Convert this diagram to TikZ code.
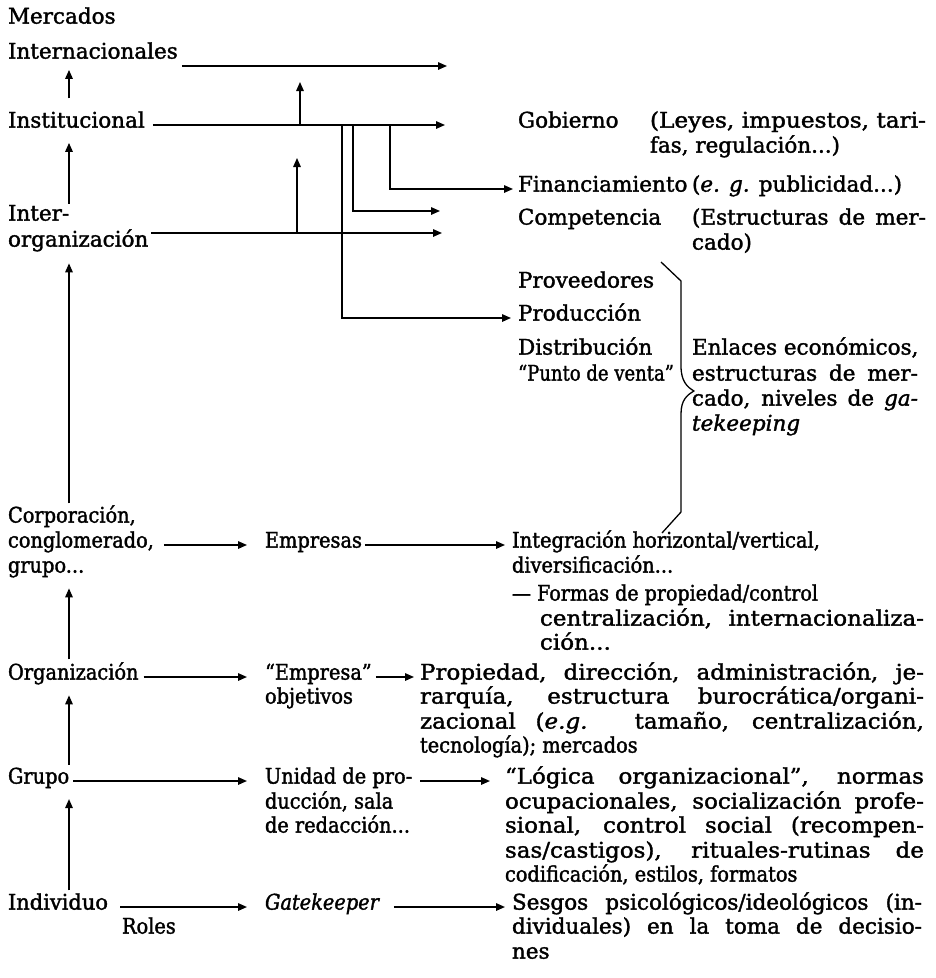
\documentclass[tikz,border=0pt]{standalone}
\usepackage{fontspec}
\usepackage{graphicx}
\setmainfont{DejaVu Serif}[FakeBold=1.6]
\newfontfamily\condfam{DejaVu Serif}[FakeStretch=0.9,FakeBold=1.6]
\newfontfamily\widefam{DejaVu Serif}[FakeStretch=1.07,FakeBold=1.6]
\usetikzlibrary{arrows.meta}

\newcommand\mainsz{\fontsize{21.5pt}{25pt}\selectfont}
\newcommand\condsz{\condfam\fontsize{21.5pt}{25pt}\selectfont}
\newcommand\widesz{\widefam\fontsize{21.5pt}{25pt}\selectfont}
% one justified line: stretch the word spaces, or squeeze when too long
\newsavebox\fitbox
\newcommand\fitline[2]{\sbox\fitbox{#2}%
  \ifdim\wd\fitbox>#1\relax\resizebox{#1}{\height}{\usebox\fitbox}%
  \else\makebox[#1][s]{#2}\fi}
% one line scaled horizontally to a given width, spaces kept normal
\newcommand\sqline[2]{\resizebox{#1}{\height}{#2}}

\begin{document}
\begin{tikzpicture}[x=1pt,y=-1pt,
  lbl/.style={inner sep=0pt,outer sep=0pt,anchor=mid west,font=\mainsz},
  clbl/.style={lbl,font=\condsz},
  wlbl/.style={lbl,font=\widesz},
  conn/.style={line width=1.5pt},
  arr/.style={conn,-{Triangle[length=9pt,width=7.5pt]}},
  bracepath/.style={line width=1.3pt,line join=round}]
\fill[white] (0,0) rectangle (936,978);
\useasboundingbox (0,0) rectangle (936,978);

% ---- left column: levels ----
\node[lbl] (merc)   at (8,21)  {Mercados};
\node[lbl] (intl)   at (8,56)  {Internacionales};
\node[lbl] (inst)   at (8,125) {Institucional};
\node[lbl] (inter1) at (8,218) {Inter-};
\node[lbl] (inter2) at (8,244) {organización};
\node[clbl] (corp1) at (8,520) {Corporación,};
\node[clbl] (corp2) at (8,545) {conglomerado,};
\node[clbl] (corp3) at (8,570) {grupo...};
\node[clbl] (org)   at (8,677) {Organización};
\node[clbl] (grp)   at (8,781) {Grupo};
\node[clbl] (ind)   at (8,907) {\sqline{100pt}{Individuo}};
\node[clbl] (roles) at (122,931) {Roles};

% ---- upper right block ----
\node[lbl] (gob)    at (518,125) {Gobierno};
\node[lbl] (leyes1) at (650,125) {\sqline{276pt}{(Leyes, impuestos, tari-}};
\node[lbl] (leyes2) at (650,150) {\sqline{190pt}{fas, regulación...)}};
\node[lbl] (fin)    at (518,189) {Financiamiento};
\node[lbl] (fin2)   at (692,189) {(\textit{e. g.} publicidad...)};
\node[lbl] (comp)   at (518,222) {Competencia};
\node[lbl] (comp1)  at (692,222) {\fitline{234pt}{(Estructuras de mer-}};
\node[lbl] (comp2)  at (692,247) {cado)};
\node[lbl] (prov)   at (518,285) {Proveedores};
\node[lbl] (prod)   at (518,318) {Producción};
\node[lbl] (dist1)  at (518,352) {Distribución};
\node[lbl] (dist2)  at (518,378) {\sqline{156pt}{“Punto de venta”}};
\node[lbl] (enl1)   at (692,352) {Enlaces económicos,};
\node[lbl] (enl2)   at (692,378) {\fitline{226pt}{estructuras de mer-}};
\node[lbl] (enl3)   at (692,403) {\fitline{226pt}{cado, niveles de \textit{ga-}}};
\node[lbl] (enl4)   at (692,428) {\textit{tekeeping}};

% ---- middle column ----
\node[clbl] (emps) at (265,545) {Empresas};
\node[clbl] (emp1) at (265,677) {“Empresa”};
\node[clbl] (emp2) at (265,701) {objetivos};
\node[clbl] (uni1) at (265,781) {Unidad de pro-};
\node[clbl] (uni2) at (265,806) {ducción, sala};
\node[clbl] (uni3) at (265,830) {de redacción...};
\node[clbl] (gate) at (265,907) {\textit{Gatekeeper}};

% ---- lower right block ----
\node[clbl] (int1) at (512,545) {\sqline{308pt}{Integración horizontal/vertical,}};
\node[clbl] (int2) at (512,570) {diversificación...};
\node[lbl]  (int3) at (512,598) {\sqline{306pt}{— Formas de propiedad/control}};
\node[wlbl] (int4) at (540,623) {\fitline{384pt}{centralización, internacionaliza-}};
\node[wlbl] (int5) at (540,647) {ción...};
\node[wlbl] (pro1) at (420,677) {\fitline{504pt}{Propiedad, dirección, administración, je-}};
\node[wlbl] (pro2) at (420,701) {\fitline{504pt}{rarquía, estructura burocrática/organi-}};
\node[wlbl] (pro3) at (420,726) {\fitline{504pt}{zacional (\textit{e.g.} tamaño, centralización,}};
\node[clbl] (pro4) at (420,750) {tecnología); mercados};
\node[wlbl] (log1) at (505,781) {\fitline{419pt}{“Lógica organizacional”, normas}};
\node[wlbl] (log2) at (505,806) {\fitline{419pt}{ocupacionales, socialización profe-}};
\node[wlbl] (log3) at (505,830) {\fitline{419pt}{sional, control social (recompen-}};
\node[wlbl] (log4) at (505,855) {\fitline{419pt}{sas/castigos), rituales-rutinas de}};
\node[clbl] (log5) at (505,879) {codificación, estilos, formatos};
\node[lbl]  (ses1) at (512,907) {\fitline{410pt}{Sesgos psicológicos/ideológicos (in-}};
\node[lbl]  (ses2) at (512,931) {\fitline{410pt}{dividuales) en la toma de decisio-}};
\node[lbl]  (ses3) at (512,956) {nes};

% ---- vertical arrows between levels ----
\coordinate (ax) at (69,0);
\draw[arr,shorten <=13pt,shorten >=11pt] (inst.north -| ax) -- (intl.south -| ax);
\draw[arr,shorten <=1pt,shorten >=15pt] (inter1.north -| ax) -- (inst.south -| ax);
\draw[arr,shorten <=2pt,shorten >=12pt] (corp1.north -| ax) -- (inter2.south -| ax);
\draw[arr,shorten <=3pt,shorten >=11pt] (org.north -| ax) -- (corp3.south -| ax);
\draw[arr,shorten <=3pt,shorten >=11pt] (grp.north -| ax) -- (org.south -| ax);
\draw[arr,shorten <=3pt,shorten >=11pt] (ind.north -| ax) -- (grp.south -| ax);

% ---- upper connectors ----
\coordinate (tIntl) at (447,66);
\draw[arr,shorten <=4pt] (intl.east |- tIntl) -- (tIntl);
\coordinate (tInst) at (445,125);
\draw[arr,shorten <=8pt] (inst.mid east) -- (tInst);
\coordinate (upA) at (300,82);
\draw[arr] (tInst -| upA) -- (upA);
\coordinate (tInter) at (442,233);
\draw[arr,shorten <=3pt] (inter2.east |- tInter) -- (tInter);
\coordinate (upB) at (297,158);
\draw[arr] (tInter -| upB) -- (upB);
\coordinate (vF) at (390,125);
\coordinate (vC) at (353,125);
\coordinate (vP) at (342,125);
\coordinate (tComp) at (440,211);
\draw[arr,shorten >=5pt] (vF) |- (fin.mid west);
\draw[arr] (vC) |- (tComp);
\draw[arr,shorten >=7pt] (vP) |- (prod.mid west);

% ---- brace grouping the economic links ----
\draw[bracepath] (661,262) -- (681,281) -- (681,366)
  .. controls (681,381) and (687,387) .. (694,391)
  .. controls (687,395) and (681,400) .. (681,414)
  -- (681,512) -- (662,533);

% ---- lower connectors ----
\draw[arr,shorten <=10pt,shorten >=18pt] (corp2.mid east) -- (emps.mid west);
\draw[arr,shorten <=3pt,shorten >=7pt]   (emps.mid east) -- (int1.mid west);
\draw[arr,shorten <=5pt,shorten >=18pt]  (org.mid east) -- (emp1.mid west);
\draw[arr,shorten <=4pt,shorten >=6pt]   (emp1.mid east) -- (pro1.mid west);
\draw[arr,shorten <=4pt,shorten >=18pt]  (grp.mid east) -- (uni1.mid west);
\draw[arr,shorten <=8pt,shorten >=15pt]  (uni1.mid east) -- (log1.mid west);
\draw[arr,shorten <=12pt,shorten >=18pt] (ind.mid east) -- (gate.mid west);
\draw[arr,shorten <=14pt,shorten >=7pt]  (gate.mid east) -- (ses1.mid west);
\end{tikzpicture}
\end{document}
